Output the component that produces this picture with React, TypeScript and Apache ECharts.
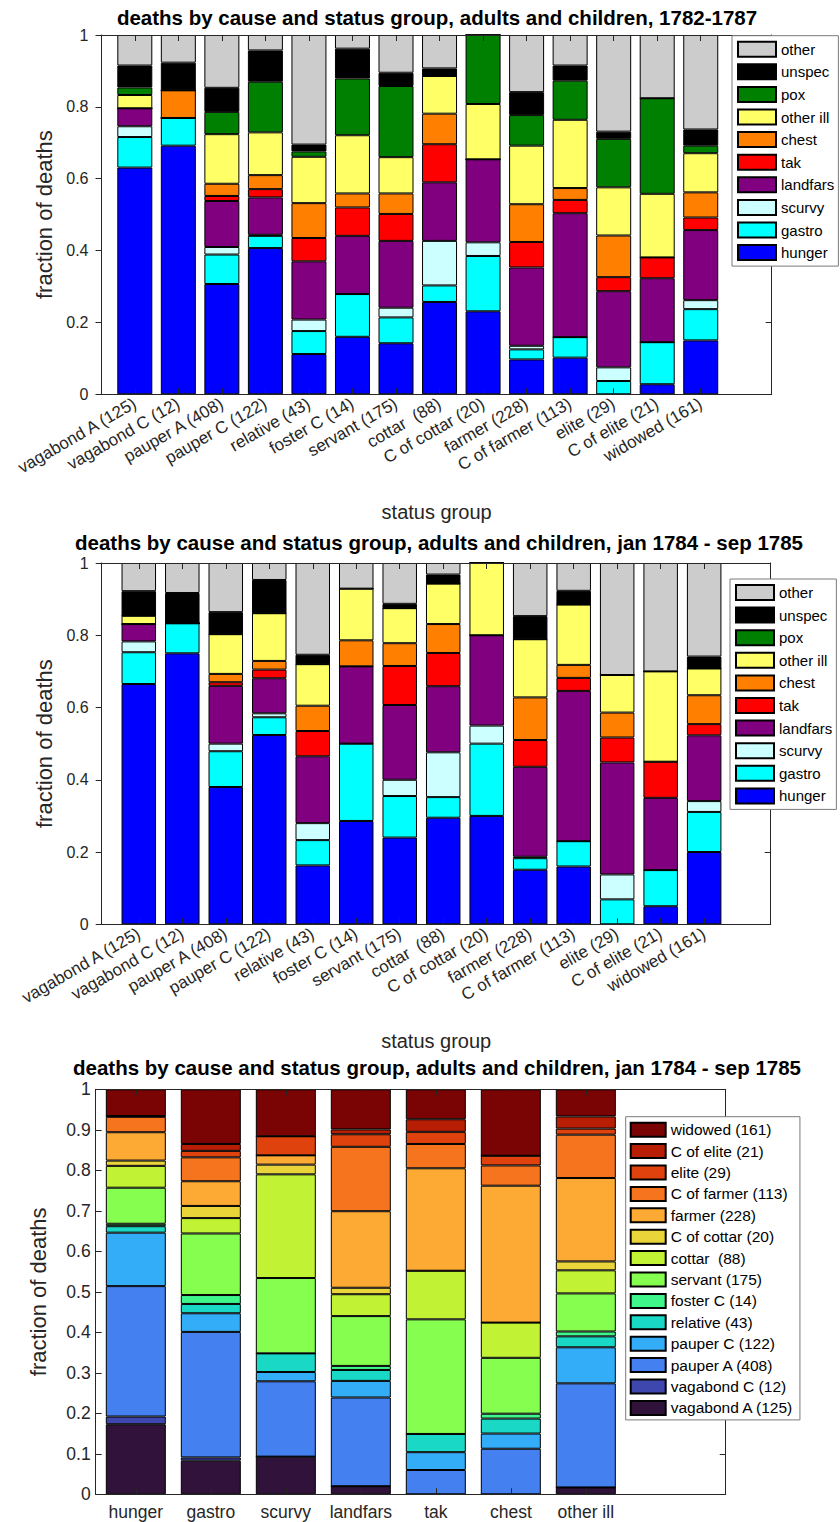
import React, { useEffect, useRef } from 'react';
import * as echarts from 'echarts';

// ---------- categories ----------
const statusLabels = [
  'vagabond A (125)', 'vagabond C (12)', 'pauper A (408)', 'pauper C (122)', 'relative (43)',
  'foster C (14)', 'servant (175)', 'cottar  (88)', 'C of cottar (20)', 'farmer (228)',
  'C of farmer (113)', 'elite (29)', 'C of elite (21)', 'widowed (161)',
];
const causeNames = ['hunger', 'gastro', 'scurvy', 'landfars', 'tak', 'chest', 'other ill', 'pox', 'unspec', 'other'];
const causeColors = ['#0000ff', '#00ffff', '#ccffff', '#800080', '#ff0000', '#ff8000', '#ffff66', '#008000', '#000000', '#cccccc'];
const chart3Causes = ['hunger', 'gastro', 'scurvy', 'landfars', 'tak', 'chest', 'other ill'];
const statusColors = [
  '#30123b', '#3e47ad', '#4580f1', '#33adf7', '#1ad8c6', '#3ff68a', '#86fe4f',
  '#c1f334', '#e9d439', '#fdaa35', '#f7741e', '#e0420d', '#b81e04', '#7a0403',
];

// ---------- chart 1: 1782-1787 (fractions per status group) ----------
const c1Hunger = [0.631, 0.692, 0.307, 0.407, 0.112, 0.160, 0.142, 0.257, 0.231, 0.097, 0.102, 0, 0.028, 0.150];
const c1Gastro = [0.085, 0.077, 0.082, 0.034, 0.064, 0.119, 0.072, 0.046, 0.154, 0.028, 0.057, 0.037, 0.117, 0.087];
const c1Scurvy = [0.030, 0, 0.021, 0.003, 0.032, 0, 0.027, 0.124, 0.038, 0.010, 0, 0.038, 0, 0.025];
const c1Landfars = [0.050, 0, 0.128, 0.104, 0.162, 0.162, 0.186, 0.163, 0.231, 0.218, 0.345, 0.212, 0.178, 0.195];
const c1Tak = [0, 0, 0.014, 0.023, 0.065, 0.079, 0.075, 0.106, 0, 0.071, 0.037, 0.039, 0.058, 0.035];
const c1Chest = [0, 0.077, 0.034, 0.039, 0.097, 0.039, 0.057, 0.085, 0, 0.105, 0.033, 0.116, 0, 0.070];
const c1OtherIll = [0.037, 0, 0.138, 0.119, 0.129, 0.162, 0.101, 0.105, 0.154, 0.163, 0.190, 0.134, 0.177, 0.109];
const c1Pox = [0.021, 0, 0.062, 0.141, 0.015, 0.158, 0.198, 0, 0.192, 0.085, 0.109, 0.135, 0.266, 0.021];
const c1Unspec = [0.061, 0.077, 0.067, 0.087, 0.019, 0.083, 0.037, 0.021, 0, 0.064, 0.042, 0.020, 0, 0.045];
const c1Other = [0.085, 0.077, 0.147, 0.043, 0.305, 0.038, 0.105, 0.093, 0, 0.159, 0.085, 0.269, 0.176, 0.263];

// ---------- chart 2: jan 1784 - sep 1785 ----------
const c2Hunger = [0.665, 0.750, 0.380, 0.524, 0.163, 0.286, 0.240, 0.295, 0.300, 0.151, 0.160, 0, 0.050, 0.200];
const c2Gastro = [0.088, 0.083, 0.099, 0.049, 0.070, 0.214, 0.115, 0.057, 0.200, 0.032, 0.070, 0.069, 0.100, 0.111];
const c2Scurvy = [0.030, 0, 0.021, 0.011, 0.047, 0, 0.045, 0.124, 0.050, 0.004, 0, 0.069, 0, 0.030];
const c2Landfars = [0.048, 0, 0.160, 0.097, 0.185, 0.214, 0.207, 0.183, 0.250, 0.249, 0.416, 0.310, 0.200, 0.182];
const c2Tak = [0, 0, 0.010, 0.024, 0.070, 0, 0.108, 0.092, 0, 0.074, 0.036, 0.069, 0.100, 0.031];
const c2Chest = [0, 0, 0.023, 0.024, 0.070, 0.072, 0.063, 0.080, 0, 0.118, 0.036, 0.069, 0, 0.080];
const c2OtherIll = [0.023, 0, 0.110, 0.132, 0.115, 0.143, 0.097, 0.112, 0.200, 0.161, 0.167, 0.104, 0.250, 0.074];
const c2Pox = [0, 0, 0, 0, 0, 0, 0, 0, 0, 0, 0, 0, 0, 0];
const c2Unspec = [0.068, 0.084, 0.061, 0.092, 0.026, 0, 0.012, 0.025, 0, 0.064, 0.038, 0, 0, 0.033];
const c2Other = [0.078, 0.083, 0.136, 0.047, 0.254, 0.071, 0.113, 0.032, 0, 0.147, 0.077, 0.310, 0.300, 0.259];

// ---------- chart 3: share of each cause by status group (per cause column) ----------
const c3VagabondA = [0.173, 0.083, 0.093, 0.020, 0, 0, 0.017];
const c3VagabondC = [0.019, 0.008, 0, 0, 0, 0, 0];
const c3PauperA = [0.322, 0.310, 0.186, 0.219, 0.060, 0.1125, 0.257];
const c3PauperC = [0.132, 0.046, 0.023, 0.041, 0.044, 0.0375, 0.089];
const c3Relative = [0.016, 0.023, 0.046, 0.027, 0.045, 0.037, 0.027];
const c3FosterC = [0.006, 0.022, 0, 0.010, 0, 0.012, 0.012];
const c3Servant = [0.089, 0.152, 0.186, 0.123, 0.283, 0.138, 0.094];
const c3Cottar = [0.054, 0.038, 0.256, 0.054, 0.120, 0.087, 0.057];
const c3CofCottar = [0.013, 0.030, 0.024, 0.016, 0, 0, 0.022];
const c3Farmer = [0.070, 0.061, 0.023, 0.189, 0.253, 0.338, 0.206];
const c3CofFarmer = [0.038, 0.059, 0, 0.159, 0.060, 0.050, 0.107];
const c3Elite = [0.002, 0.016, 0.047, 0.031, 0.030, 0.024, 0.015];
const c3CofElite = [0, 0.017, 0, 0.012, 0.031, 0, 0.030];
const c3Widowed = [0.066, 0.135, 0.116, 0.099, 0.074, 0.164, 0.067];

const yTicks12 = [0, 0.2, 0.4, 0.6, 0.8, 1];
const idx14 = statusLabels.map((_, i) => i + 1);
const idx7 = chart3Causes.map((_, i) => i + 1);

const title1 = 'deaths by cause and status group, adults and children, 1782-1787';
const title2 = 'deaths by cause and status group, adults and children, jan 1784 - sep 1785';
const title3 = 'deaths by cause and status group, adults and children, jan 1784 - sep 1785';

const chart1Series = [c1Hunger, c1Gastro, c1Scurvy, c1Landfars, c1Tak, c1Chest, c1OtherIll, c1Pox, c1Unspec, c1Other];
const chart2Series = [c2Hunger, c2Gastro, c2Scurvy, c2Landfars, c2Tak, c2Chest, c2OtherIll, c2Pox, c2Unspec, c2Other];
const chart3Series = [
  c3VagabondA, c3VagabondC, c3PauperA, c3PauperC, c3Relative, c3FosterC, c3Servant,
  c3Cottar, c3CofCottar, c3Farmer, c3CofFarmer, c3Elite, c3CofElite, c3Widowed,
];

const FONT = '"Liberation Sans", Arial, Helvetica, sans-serif';
const AX = '#262626';

function bottomX(gi: number, min: number, max: number, ticks: number[], labels: string[], rotate: number, fontSize: number, margin: number, name: string, nameGap: number) {
  return {
    type: 'value', gridIndex: gi, min, max, position: 'bottom', z: 5,
    axisLine: { show: true, onZero: false, lineStyle: { color: AX, width: 1 } },
    axisTick: { show: true, inside: true, length: 6, customValues: ticks, lineStyle: { color: AX, width: 1 } },
    axisLabel: {
      show: true, customValues: ticks, rotate, margin, fontSize, color: AX, fontFamily: FONT,
      formatter: (v: number) => labels[Math.round(v) - 1] ?? '',
    },
    splitLine: { show: false },
    name, nameLocation: 'middle', nameGap,
    nameTextStyle: { fontSize: 20, color: AX, fontFamily: FONT },
  };
}
function topX(gi: number, min: number, max: number, ticks: number[]) {
  return {
    type: 'value', gridIndex: gi, min, max, position: 'top', z: 5,
    axisLine: { show: true, onZero: false, lineStyle: { color: AX, width: 1 } },
    axisTick: { show: true, inside: true, length: 6, customValues: ticks, lineStyle: { color: AX, width: 1 } },
    axisLabel: { show: false },
    splitLine: { show: false },
  };
}
function leftY(gi: number, interval: number, inside: boolean, margin: number, fontSize: number, nameGap: number) {
  return {
    type: 'value', gridIndex: gi, min: 0, max: 1, interval, position: 'left', z: 5,
    axisLine: { show: true, onZero: false, lineStyle: { color: AX, width: 1 } },
    axisTick: { show: true, inside, length: 6, lineStyle: { color: AX, width: 1 } },
    axisLabel: { show: true, margin, fontSize, color: AX, fontFamily: FONT },
    splitLine: { show: false },
    name: 'fraction of deaths', nameLocation: 'middle', nameGap,
    nameTextStyle: { fontSize: 22, color: AX, fontFamily: FONT },
  };
}
function rightY(gi: number, interval: number) {
  return {
    type: 'value', gridIndex: gi, min: 0, max: 1, interval, position: 'right', z: 5,
    axisLine: { show: true, onZero: false, lineStyle: { color: AX, width: 1 } },
    axisTick: { show: true, inside: true, length: 6, lineStyle: { color: AX, width: 1 } },
    axisLabel: { show: false },
    splitLine: { show: false },
  };
}
// value first so that the stacked dimension is the y value; x position second
function bar(name: string, color: string, values: number[], axisIndex: number, stack: string, barWidth: number) {
  return {
    type: 'bar', name, stack, xAxisIndex: axisIndex, yAxisIndex: axisIndex, barWidth,
    dimensions: ['frac', 'pos'],
    encode: { x: 1, y: 0 },
    data: values.map((v, i) => [v, i + 1]),
    itemStyle: { color, borderColor: '#000', borderWidth: 1 },
    emphasis: { disabled: true },
    z: 2,
  };
}
function legend(left: number, top: number, data: string[], iw: number, ih: number, gap: number, fontSize: number, padding: number[]) {
  return {
    orient: 'vertical', left, top, data, itemWidth: iw, itemHeight: ih, itemGap: gap, icon: 'rect',
    padding, borderColor: '#7a7a7a', borderWidth: 1, backgroundColor: '#ffffff', selectedMode: false,
    textStyle: { fontSize, color: '#000', fontFamily: FONT }, z: 10,
  };
}

function buildOption() {
  const series: any[] = [];
  chart1Series.forEach((vals, k) => series.push(bar(causeNames[k], causeColors[k], vals, 0, 'c1', 35)));
  chart2Series.forEach((vals, k) => series.push(bar(causeNames[k], causeColors[k], vals, 2, 'c2', 34.5)));
  chart3Series.forEach((vals, k) => series.push(bar(statusLabels[k], statusColors[k], vals, 4, 'c3', 60)));

  const titleStyle = { fontSize: 20.5, fontWeight: 'bold', color: '#000', fontFamily: FONT };
  return {
    animation: false,
    backgroundColor: '#ffffff',
    textStyle: { fontFamily: FONT },
    title: [
      { text: title1, left: 437, top: 6.5, padding: 0, textAlign: 'center', textStyle: titleStyle },
      { text: title2, left: 439, top: 531.5, padding: 0, textAlign: 'center', textStyle: titleStyle },
      { text: title3, left: 437, top: 1057, padding: 0, textAlign: 'center', textStyle: titleStyle },
    ],
    grid: [
      { left: 101.5, top: 35, width: 670.2, height: 359.3 },
      { left: 101.7, top: 563, width: 669, height: 361.3 },
      { left: 95.7, top: 1089.3, width: 630, height: 405 },
    ],
    xAxis: [
      bottomX(0, 0.235, 15.63, idx14, statusLabels, 30, 17, 8, 'status group', 108),
      topX(0, 0.235, 15.63, idx14),
      bottomX(1, 0.147, 15.53, idx14, statusLabels, 30, 17, 8, 'status group', 107),
      topX(1, 0.147, 15.53, idx14),
      bottomX(2, 0.465, 8.865, idx7, chart3Causes, 0, 17.5, 9, '', 0),
      topX(2, 0.465, 8.865, idx7),
    ],
    yAxis: [
      leftY(0, yTicks12[1], false, 13, 16, 37),
      rightY(0, yTicks12[1]),
      leftY(1, yTicks12[1], false, 13, 16, 37),
      rightY(1, yTicks12[1]),
      leftY(2, 0.1, true, 5, 17.5, 46),
      rightY(2, 0.1),
    ],
    legend: [
      legend(732, 35.7, [...causeNames].reverse(), 38, 15, 5.6, 15, [5, 4, 5, 5]),
      legend(730, 579, [...causeNames].reverse(), 38, 15, 5.6, 15, [5, 4, 5, 5]),
      legend(625.7, 1116.7, [...statusLabels].reverse(), 35, 14, 5.4, 15.5, [5, 6, 4, 4]),
    ],
    series,
  };
}

export default function App() {
  const ref = useRef<HTMLDivElement>(null);
  useEffect(() => {
    if (!ref.current) return;
    const chart = echarts.init(ref.current, null, { renderer: 'svg' });
    chart.setOption(buildOption() as any);
    return () => chart.dispose();
  }, []);
  return (
    <div
      ref={ref}
      style={{ position: 'absolute', left: 0, top: 0, width: 840, height: 1522, background: '#ffffff' }}
    />
  );
}
